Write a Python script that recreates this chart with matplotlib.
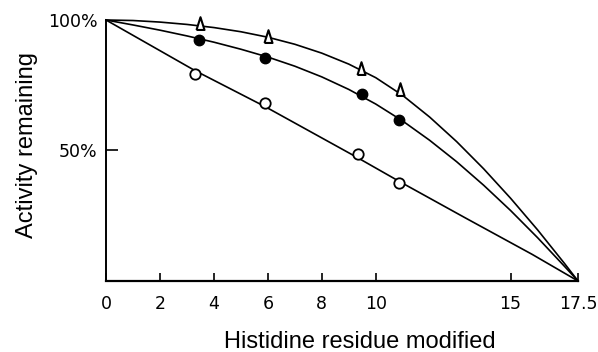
import numpy as np
import matplotlib.pyplot as plt

tri_x = [3.5, 6.0, 9.45, 10.9]
tri_y = [98.4, 93.4, 81.1, 73.2]
dot_x = [3.45, 5.9, 9.5, 10.85]
dot_y = [92.3, 85.6, 71.6, 61.7]
ring_x = [3.3, 5.9, 9.35, 10.85]
ring_y = [79.2, 68.1, 48.5, 37.7]

# drawn curves
tri_curve_x = [0, 1, 2, 3, 4, 5, 6, 7, 8, 9, 10, 11, 12, 13, 14, 15, 16, 17, 17.5]
tri_curve_y = [100, 99.8, 99.2, 98.3, 97.1, 95.5, 93.4, 90.7, 87.3, 83.1,
               77.9, 71.1, 62.8, 53.4, 43.0, 31.7, 19.6, 6.7, 0]
dot_curve_x = [0, 1, 2, 3, 4, 5, 6, 7, 8, 9, 10, 11, 12, 13, 14, 15, 16, 17, 17.5]
dot_curve_y = [100, 98.1, 96.1, 93.9, 91.5, 88.8, 85.8, 82.3, 78.2, 73.4,
               67.8, 61.3, 53.9, 45.7, 36.7, 27.0, 16.6, 5.6, 0]
ring_curve_x = [0, 3.3, 5.9, 9.3, 10.9, 13.3, 15.8, 17.5]
ring_curve_y = [100, 80.6, 66.8, 47.4, 38.0, 24.3, 10.2, 0]

x_ticks = [0, 2, 4, 6, 8, 10, 15, 17.5]
x_labels = ['0', '2', '4', '6', '8', '10', '15', '17.5']
y_ticks = [50, 100]
y_labels = ['50%', '100%']

fig = plt.figure(figsize=(5.98, 3.52), dpi=100)
ax = fig.add_axes([0.1773, 0.2017, 0.7893, 0.7415])

ax.plot(tri_curve_x, tri_curve_y, color='black', lw=1.2, clip_on=False)
ax.plot(dot_curve_x, dot_curve_y, color='black', lw=1.2, clip_on=False)
ax.plot(ring_curve_x, ring_curve_y, color='black', lw=1.2, clip_on=False)

tri_marker = [(-0.55, -0.75), (0.55, -0.75), (0, 1.0), (-0.55, -0.75)]
ax.plot(tri_x, tri_y, ls='none', marker=tri_marker, ms=10.5, mfc='white',
        mec='black', mew=1.5, clip_on=False, zorder=3)
ax.plot(dot_x, dot_y, ls='none', marker='o', ms=7.5, mfc='black',
        mec='black', clip_on=False, zorder=3)
ax.plot(ring_x, ring_y, ls='none', marker='o', ms=7.5, mfc='white',
        mec='black', mew=1.3, clip_on=False, zorder=3)

ax.set_xlim(0, 17.5)
ax.set_ylim(0, 100)
ax.spines['top'].set_visible(False)
ax.spines['right'].set_visible(False)
ax.spines['left'].set_linewidth(1.4)
ax.spines['bottom'].set_linewidth(1.6)

ax.set_xticks(x_ticks)
ax.set_xticklabels(x_labels, fontsize=12.5, family='DejaVu Sans')
ax.set_yticks(y_ticks)
ax.set_yticklabels(y_labels, fontsize=12.5, family='DejaVu Sans')
ax.tick_params(axis='x', direction='in', length=6, width=1.2, pad=10)
ax.tick_params(axis='y', direction='in', length=8.5, width=1.2, pad=6)
ax.yaxis.get_major_ticks()[1].tick1line.set_visible(False)

ax.set_xlabel('Histidine residue modified', fontsize=17, family='Liberation Sans')
ax.set_ylabel('Activity remaining', fontsize=17, family='Liberation Sans')
ax.xaxis.set_label_coords(0.538, -0.19)
ax.yaxis.set_label_coords(-0.144, 0.521)

fig.savefig('out.png', dpi=100)
